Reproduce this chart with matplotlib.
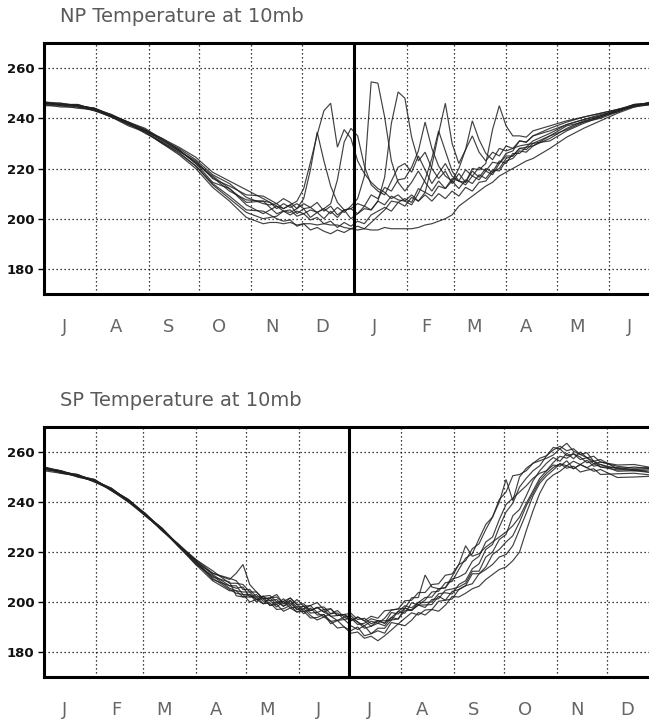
import numpy as np
import matplotlib
matplotlib.use("Agg")
import matplotlib.pyplot as plt

# ---------------------------------------------------------------
# North Pole 10 mb temperature (K), July -> June, one line per year
# sample days counted from 1 July
# ---------------------------------------------------------------
np_days = (list(range(0, 131, 10))          # smooth summer/autumn
           + list(range(134, 291, 4))       # disturbed winter
           + [300, 310, 320, 330, 340, 350, 360, 365])

np_clim = ([246, 245.5, 245, 243.5, 241, 238, 235, 231, 227, 222, 215.5, 211, 206.5, 205]
           + [204.5, 204, 204, 203.5, 203, 203, 202.5, 202.5, 202, 202,
              201.5, 201.5, 201, 201, 201, 201.5, 202, 202.5, 203, 203.5,
              204, 204.5, 205, 205.5, 206, 207, 208, 209, 210, 211.5,
              213, 214.5, 216, 217.5, 220, 222, 224, 226, 227.5, 229]
           + [233, 236.5, 239, 241, 243, 245, 246, 246])

# departures from the curve above for each year
np_dep_1 = ([0, 0.5, 0, 0.5, 0, 0.5, 1, 0.5, 1, 1.5, 2, 3, 2, 1]
            + [1, 2, 0, 2, 4, 9, 20, 31, 41, 44, 27, 34, 31, 22, 17,
               13, 10, 8, 5, 6, 3, 5, 2, 4, 1, 3, 0, 2, -1, 1, -2, 0, -1, 1, 0, 2, 1, 2, 1, 2]
            + [1, 1, 0.5, 0.5, 0, 0.5, 0, 0])
np_dep_2 = ([-0.5, 0, -0.5, 0, 0.5, 0, -0.5, -1, -0.5, -1, -2, -3, -4, -5]
            + [-4, -3, -1, -1, 1, 5, 17, 32, 21, 11, 5, 2, 3,
               1, 4, 2, 5, 3, 6, 4,
               3, 1, 5, 10, 18, 28, 19, 10, 5, 8, 4, 6, 3, 5, 2, 4, 3, 5, 3, 4]
            + [3, 2, 1.5, 1, 0.5, 0, 0.5, 0])
np_dep_3 = ([0.5, -0.5, 0, -0.5, -0.5, 0, 0.5, 0, 0.5, 0, 1, 0, 1, 2]
            + [0, -2, -1, -2, 0, -1, 1, 0, 2, 0, 3, 1, 4, 7, 16,
               53, 52, 38, 20, 11,
               7, 10, 14, 9, 5, 8, 4, 6, 2, 4, 1, 3, 0, 2, -1, 1, 0, 1, -1, 0]
            + [-1, -0.5, 0, -0.5, 0, -0.5, 0, 0.5])
np_dep_4 = ([-1, -0.5, -1, 0, 0, -0.5, 0, 0.5, 0, 1, 0.5, 2, 3, 4]
            + [3, 2, 4, 3, 1, 3, 2, 4, 1, 3, 0, 2, -1, 1, 3, 2, 5,
               14, 35, 47, 44,
               28, 18, 21, 14, 9, 11, 5, 8, 3, 6, 2, 4, 1, 3, 0, 2, 0, 1, 0]
            + [0, 0.5, -0.5, 0, 0.5, 0, -0.5, 0])
np_dep_5 = ([0, 0, 0.5, 0, -0.5, -1, -0.5, -1, -1.5, -2, -3, -4, -6, -7]
            + [-6, -5.5, -6, -5, -5.5, -5, -4.5, -5, -4, -4.5,
               -4, -5, -5, -5.5, -5, -6, -6.5, -6, -7, -7.5,
               -8, -8.5, -8.5, -8, -8, -8, -8, -7.5, -5, -4.5,
               -4, -3.5, -3, -3, -3, -3.5, -4, -4.5, -4.5, -5]
            + [-5, -4, -3, -2, -1, -0.5, -0.5, 0])
np_dep_6 = ([0.5, 0.5, 0, 0.5, 0.5, 0.5, 0, 1, 1.5, 2.5, 3, 4, 5, 3]
            + [2, 1, -1, 0, -2, -1, -3, -2, -4, -3, -5, -3, -4, -2, -3, 0,
               1, 2, 0, 3, 1, 4, 2, 5, 3, 6, 4, 7, 5, 3, 7, 5, 6,
               18, 25, 15, 9, 7, 5, 6]
            + [4, 2.5, 1.5, 1, 0.5, 0.5, 0, 0.5])
np_dep_7 = ([-0.5, -1, -0.5, -0.5, 0, 0, -1, -0.5, -1, -1, -1.5, -2, -3, -2]
            + [-3, -4, -5, -4, -6, -5, -7, -6, -7, -8, -6, -7, -5, -4, -5, -3, -1, 1, 4, 3,
               4, 2, 7, 5, 15, 27, 38, 21, 12, 16, 20, 12, 7, 9, 5, 7, 4, 5, 3, 4]
            + [2, 1, 0.5, 0, -0.5, 0, 0.5, 0])
np_dep_8 = ([0, 0, 0, 0.5, 0, 0.5, 0.5, 1, 0.5, 0, -1, 1, 0, 2]
            + [2, 0, 2, 1, 3, 1, 2, 0, 2, 4, 14, 29, 35, 32, 20, 12, 9, 7, 12, 17,
               18, 14, 20, 14, 8, 11, 14, 8, 5, 2, 4, 1, 3, 0, 2, 3, 1, 2, 0, 1]
            + [0, -1, -0.5, -1, -0.5, 0, -0.5, -0.5])
np_dep_9 = ([0.5, 0, 0.5, 0, -0.5, -0.5, 0, -0.5, 0, 0.5, 1.5, 1, -1, -3]
            + [-1, 1, 0, 2, -1, 1, -2, 0, -2, 1, -1, 2, 3, 5, 4, 8, 6, 10, 8, 12,
               12, 16, 22, 33, 22, 14, 9, 6, 10, 16, 26, 17, 10, 6, 8, 5, 4, 3, 2, 1]
            + [-2, -1.5, -1, -0.5, 0, 0.5, 0, 0])

np_years = [np_dep_1, np_dep_2, np_dep_3, np_dep_4, np_dep_5,
            np_dep_6, np_dep_7, np_dep_8, np_dep_9]

# ---------------------------------------------------------------
# South Pole 10 mb temperature (K), January -> December
# sample days counted from 1 January
# ---------------------------------------------------------------
sp_days = (list(range(0, 111, 10))
           + list(range(114, 331, 4))
           + [340, 350, 360, 365])

sp_clim = ([253.5, 252, 250.5, 248.5, 245, 240.5, 235, 229, 222.5, 216, 210.5, 206.5]
           + [205.5, 204, 203, 202, 201.3, 200.6, 200, 199.3, 198.6, 198,
              197.3, 196.6, 195.8, 195, 194.3, 193.6, 193, 192.5, 192, 191.5,
              191.3, 191.5, 192.5, 193.8, 195.2, 196.5, 197.7, 198.8, 199.8, 201,
              202.3, 203.7, 205.2, 207, 209.5, 212.3, 215.3, 219, 223, 227,
              231, 235.5, 240, 244.5, 248.5, 251.5, 253.5, 254.8, 255.3, 255.5,
              255.3, 255, 254.7, 254.3, 254]
           + [253.3, 253, 252.8, 252.7])

sp_dep_1 = ([0, 0.5, -0.5, 0, 0.5, 0, -0.5, 0, 0.5, 1, 2, 1]
            + [2, 3, 1, 2, 0,
               1, 2, 0, 3, 1, 2, 0, 2, 1, 3, 1, 2,
               0, 2, 1, 3, 2, 4, 3, 2, 4, 3, 5,
               4, 6, 5, 7, 6, 8,
               7, 9, 8,
               10, 11, 13, 18, 5, 10, 9, 7, 5, 4,
               4, 6, 3, 4, 2, 3, 1, 2]
            + [1, 0.5, 1, 0.5])
sp_dep_2 = ([-0.5, 0, 0.5, -0.5, 0, 0.5, 0, 0.5, 0, -1, 0, -1]
            + [-1, 0, 1, -1, 0,
               -2, 0, -1, 1, -1, 0, 2, 0, -1, 1, 3, 1,
               2, 0, -1, 1, 0, -2, 0, 1, -1, 2, 0,
               1, 3, 2, 4, 3, 6,
               8, 7, 10,
               12, 11, 14, 13, 15, 11, 8, 7, 6, 5,
               6, 7, 5, 6, 4, 3, 2, 1]
            + [0, 1, 0.5, 1])
sp_dep_3 = ([0.5, 0, 0, 0.5, -0.5, -0.5, 0.5, 0, -0.5, 0, -1.5, 0]
            + [1, -1, 0, -2, 1,
               0, -2, 1, -1, 0, -2, 1, -1, 0, -3, -1, 0,
               -2, -3, -1, -4, -2, -3, -1, -2, 0, -1, 1,
               0, -1, 1, 0, -2, 0,
               -1, 1, 0,
               2, 0, 3, 5, 4, 6, 5, 4, 3, 5,
               7, 6, 8, 5, 4, 5, 2, 3]
            + [0, -0.5, 0, -0.5])
sp_dep_4 = ([-1, -0.5, 0, 0, 0.5, 0, 0, -0.5, 0, 1, 1, 2.5]
            + [6, 11, 4, 2, 0,
               1, 3, 0, 2, -1, 1, 0, 2, 3, 1, 2, 0,
               1, 0, -2, -1, 1, -1, 2, 0, 1, -1, 0,
               -2, 0, -1, 1, 0, -1,
               -2, 0, -3,
               -1, -3, -2, -4, -1, -3, -2, 0, 1, 2,
               3, 1, 4, 2, 5, 3, 4, 2]
            + [1.5, 2, 1, 1.5])
sp_dep_5 = ([0, 0.5, 0, 0.5, 0, 0.5, 0, 0.5, 0, 0.5, -1, -1.5]
            + [-2, -1, -3, -1, -2,
               -1, -3, -2, 0, -2, -1, -3, -2, 0, -2, -1, -3,
               -4, -2, -5, -4, -3, -5, -2, -4, -3, -2, -4,
               -3, -4, -2, -3, -4, -2,
               -3, -5, -4,
               -6, -8, -9, -12, -13, -11, -9, -6, -4, -3,
               -2, 0, -1, 1, 0, 2, 0, 1]
            + [-1, -0.5, -1, -1.5])
sp_dep_6 = ([0.5, -0.5, 0, -0.5, 0, -0.5, -0.5, 0, -0.5, -1, -2, -2]
            + [-1, -2, 0, -1, 1,
               -2, -1, -3, -1, -2, 0, -2, -3, -1, -2, -4, -3,
               -5, -4, -6, -5, -7, -6, -5, -4, -6, -5, -3,
               -5, -4, -6, -5, -3, -5,
               -6, -7, -9,
               -10, -12, -14, -17, -19, -20, -16, -12, -8, -5,
               -4, -3, -1, -2, 0, -1, -2, -1]
            + [-3.5, -3, -2.5, -2])
sp_dep_7 = ([-0.5, 0, -0.5, 0, -0.5, 0, 0, -0.5, 0.5, 0, 1, 3]
            + [3, 1, 2, 0, 1,
               2, 0, 1, 3, 1, -1, 0, 2, 1, 0, -1, 1,
               0, 2, 1, -1, 0, 1, 3, 2, 1, 4, 3,
               11, 5, 3, 2, 4, 3,
               2, 4, 3,
               5, 3, 6, 8, 6, 4, 2, 1, 0, -1,
               0, -1, 1, -2, 0, -1, 1, 0]
            + [-0.5, 0, -1, -0.5])
sp_dep_8 = ([0, 0, 0.5, 0, 0, 0.5, 0.5, 0, 0, 0.5, 0.5, 0]
            + [0, 2, -1, 1, -1,
               0, 1, -1, 2, 0, 1, -1, 0, 2, 0, 1, 2,
               1, -1, 0, 2, 1, 0, -1, 1, 2, 0, 1,
               2, 1, 3, 2, 5, 8,
               13, 6, 4,
               3, 1, -1, -3, -5, -6, -5, -4, -2, -1,
               1, 3, 2, 4, 3, 1, 2, 0]
            + [0.5, 0, 0.5, 0])
sp_dep_9 = ([0.5, 0.5, 0, 0, 0, 0, 0, 0.5, 0, -0.5, -0.5, 1.5]
            + [-3, -2, -1, 0, -2,
               1, -1, 2, 0, 3, 1, 2, 4, 2, 3, 1, 2,
               3, 1, 2, 0, 1, -1, 0, -2, 1, -1, 0,
               -1, -2, 0, -3, -1, -2,
               -3, -1, -4,
               -5, -4, -6, -7, -9, -8, -6, -5, -3, -2,
               -1, 0, -2, -1, -3, -2, -1, -3]
            + [-2, -1.5, -2, -1])

sp_years = [sp_dep_1, sp_dep_2, sp_dep_3, sp_dep_4, sp_dep_5,
            sp_dep_6, sp_dep_7, sp_dep_8, sp_dep_9]

# month boundaries (day of the plotted year) and labels
np_month_start = [0, 31, 62, 92, 123, 153, 184, 215, 243, 274, 304, 335]
np_months = ['J', 'A', 'S', 'O', 'N', 'D', 'J', 'F', 'M', 'A', 'M', 'J']
np_year_break = 184

sp_month_start = [0, 31, 59, 90, 120, 151, 181, 212, 243, 273, 304, 334]
sp_months = ['J', 'F', 'M', 'A', 'M', 'J', 'J', 'A', 'S', 'O', 'N', 'D']
sp_year_break = 181

y_ticks = [180, 200, 220, 240, 260]

W, H = 649, 724
fig = plt.figure(figsize=(W / 100, H / 100), dpi=100)
fig.patch.set_facecolor('white')


def panel(top_px, bottom_px, days, clim, years, starts, names, brk, title):
    left_px, right_px = 44, 659.5
    ax = fig.add_axes([left_px / W, 1 - bottom_px / H,
                       (right_px - left_px) / W, (bottom_px - top_px) / H])
    clim = np.asarray(clim, dtype=float)
    for dep in years:
        ax.plot(days, clim + np.asarray(dep, dtype=float),
                color='#202020', lw=0.85, alpha=0.85, solid_joinstyle='miter')
    ax.set_xlim(0, 365)
    ax.set_ylim(170, 270)

    ax.set_yticks(y_ticks)
    ax.set_yticklabels([str(v) for v in y_ticks], fontweight='bold',
                       fontsize=9.5, color='#111111')
    ax.tick_params(axis='y', direction='out', length=4, width=1.0, pad=3)

    ax.set_xticks(starts[1:])
    ax.set_xticklabels([])
    ax.tick_params(axis='x', length=0)
    ax.set_xticks([s + 12 for s in starts], minor=True)
    ax.set_xticklabels(names, minor=True, fontsize=13, color='#666666')
    ax.tick_params(axis='x', which='minor', length=0, pad=17.5)

    ax.grid(True, which='major', color='black', lw=0.9,
            linestyle=(0, (1, 2.2)))
    ax.axvline(brk, color='black', lw=2.2)
    for s in ax.spines.values():
        s.set_linewidth(2.2)
        s.set_color('black')
    fig.text(60 / W, 1 - (top_px - 26) / H, title, fontsize=14,
             color='#5a5a5a', va='center', ha='left')
    return ax


panel(43, 294, np_days, np_clim, np_years, np_month_start, np_months,
      np_year_break, 'NP Temperature at 10mb')
panel(427, 677, sp_days, sp_clim, sp_years, sp_month_start, sp_months,
      sp_year_break, 'SP Temperature at 10mb')

fig.savefig('out.png', dpi=100)
